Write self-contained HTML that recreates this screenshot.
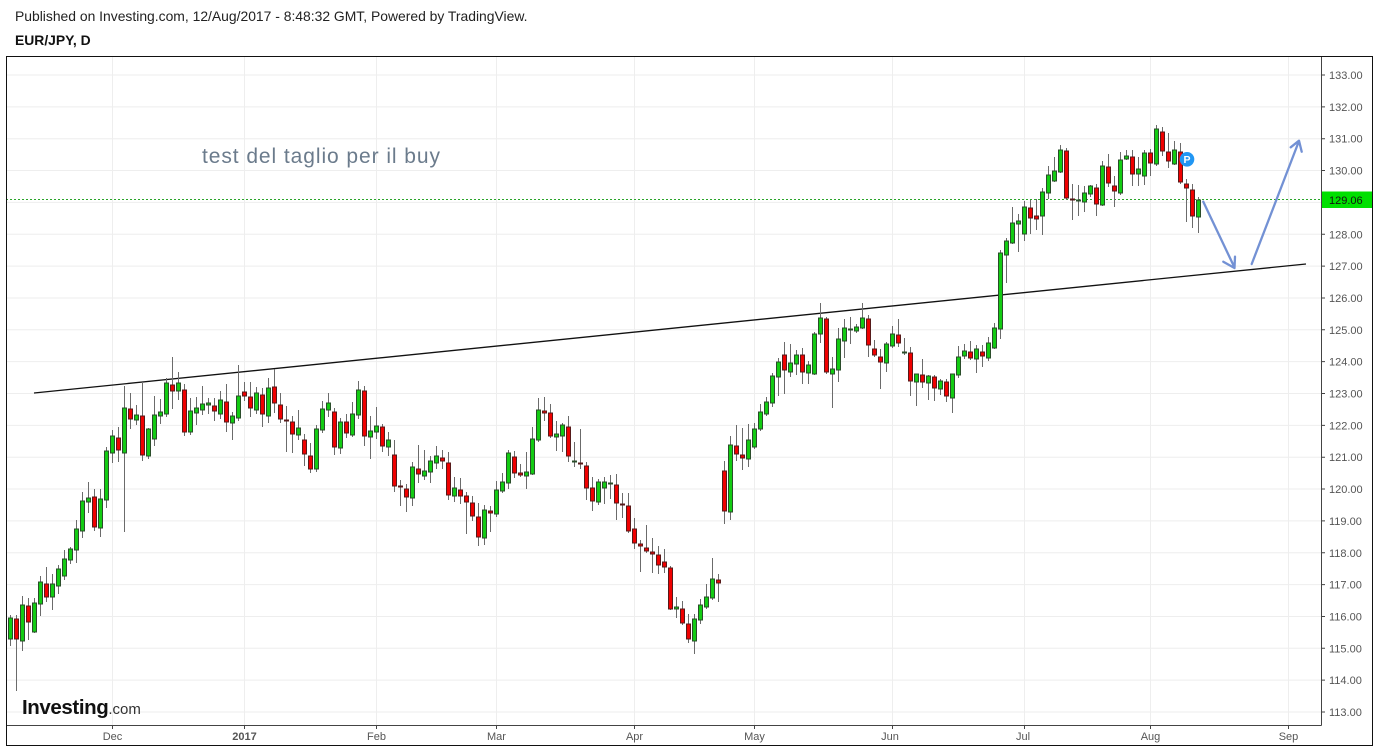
<!DOCTYPE html>
<html><head><meta charset="utf-8"><style>
html,body{margin:0;padding:0;background:#fff;}
svg{display:block;}
text{font-family:"Liberation Sans",Arial,sans-serif;}
</style></head><body>
<svg width="1373" height="749" viewBox="0 0 1373 749" xmlns="http://www.w3.org/2000/svg">
<rect width="1373" height="749" fill="#fff"/>
<text x="15" y="21" font-size="13.9" fill="#222">Published on Investing.com, 12/Aug/2017 - 8:48:32 GMT, Powered by TradingView.</text>
<text x="15" y="45" font-size="13.9" font-weight="bold" fill="#111">EUR/JPY, D</text>
<g stroke="#eeeeee" stroke-width="1">
<path d="M6 75H1321M6 106.85H1321M6 138.7H1321M6 170.55H1321M6 202.4H1321M6 234.25H1321M6 266.1H1321M6 297.95H1321M6 329.8H1321M6 361.65H1321M6 393.5H1321M6 425.35H1321M6 457.2H1321M6 489.05H1321M6 520.9H1321M6 552.75H1321M6 584.6H1321M6 616.45H1321M6 648.3H1321M6 680.15H1321M6 712H1321"/>
<path d="M112.5 56V725M244.5 56V725M376.5 56V725M496.5 56V725M634.5 56V725M754.5 56V725M892.5 56V725M1024.5 56V725M1150.5 56V725M1288.5 56V725"/>
</g>
<text x="202" y="163" font-size="21" fill="#6b7b8c" textLength="238" lengthAdjust="spacing">test del taglio per il buy</text>
<path d="M6 199.5H1321" stroke="#2aa52a" stroke-width="1" stroke-dasharray="2 2"/>
<path d="M34 393L1306 264" stroke="#111" stroke-width="1.3" fill="none"/>
<path fill="none" stroke="#6b6b6b" stroke-width="1" d="M10.5 615V646M16.5 615V691M22.5 596V651M28.5 598V640M34.5 598V633M40.5 576V616M46.5 567V602M52.5 574V610M58.5 565V594M64.5 550V580M70.5 547V564M76.5 520V563M82.5 492V538M88.5 482V513M94.5 489V531M100.5 489V537M106.5 447V508M112.5 430V463M118.5 427V462M124.5 386V532M130.5 393V429M136.5 405V425M142.5 382V461M148.5 428V459M154.5 396V446M160.5 399V424M166.5 378V417M172.5 357V409M178.5 372V400M184.5 384V436M190.5 398V435M196.5 397V425M202.5 386V415M208.5 398V414M214.5 398V421M220.5 391V419M226.5 384V432M232.5 412V440M238.5 365V421M244.5 382V401M250.5 382V417M256.5 387V414M262.5 388V427M268.5 378V423M274.5 369V413M280.5 393V423M286.5 406V452M292.5 416V453M298.5 410V440M304.5 434V466M310.5 443V473M316.5 425V472M322.5 401V433M328.5 393V417M334.5 408V455M340.5 418V454M346.5 414V438M352.5 402V437M358.5 381V419M364.5 386V446M370.5 416V459M376.5 407V439M382.5 424V452M388.5 432V456M394.5 440V492M400.5 480V506M406.5 484V512M412.5 462V506M418.5 445V483M424.5 450V480M430.5 456V483M436.5 446V469M442.5 450V469M448.5 452V500M454.5 477V502M460.5 478V504M466.5 492V534M472.5 496V521M478.5 503V546M484.5 505V545M490.5 506V532M496.5 481V517M502.5 473V493M508.5 450V489M514.5 451V478M520.5 464V477M526.5 452V489M532.5 427V475M538.5 398V442M544.5 397V421M550.5 404V438M556.5 421V451M562.5 423V452M568.5 416V462M574.5 442V467M580.5 429V469M586.5 462V500M592.5 477V511M598.5 479V505M604.5 477V504M610.5 475V499M616.5 474V520M622.5 493V518M628.5 493V533M634.5 518V549M640.5 540V572M646.5 525V553M652.5 538V573M658.5 546V574M664.5 549V573M670.5 566V610M676.5 597V618M682.5 601V625M688.5 614V643M694.5 614V654M700.5 599V624M706.5 584V609M712.5 558V600M718.5 574V602M724.5 461V524M730.5 436V520M736.5 425V461M742.5 428V470M748.5 424V467M754.5 423V449M760.5 404V431M766.5 397V416M772.5 373V407M778.5 358V396M784.5 342V394M790.5 344V377M796.5 350V375M802.5 348V384M808.5 361V384M814.5 332V375M820.5 303V343M826.5 317V374M832.5 357V408M838.5 328V382M844.5 319V358M850.5 317V344M856.5 324V333M862.5 303V329M868.5 315V357M874.5 340V357M880.5 349V389M886.5 342V372M892.5 326V348M898.5 319V347M904.5 338V355M910.5 347V396M916.5 374V406M922.5 359V388M928.5 375V400M934.5 375V401M940.5 379V395M946.5 379V402M952.5 374V413M958.5 346V378M964.5 344V359M970.5 341V360M976.5 345V373M982.5 345V367M988.5 337V361M994.5 323V349M1000.5 250V339M1006.5 238V283M1012.5 207V244M1018.5 214V252M1024.5 201V241M1030.5 200V234M1036.5 199V230M1042.5 188V235M1048.5 166V199M1054.5 157V182M1060.5 145V173M1066.5 148V200M1072.5 184V220M1078.5 185V216M1084.5 186V212M1090.5 185V197M1096.5 184V216M1102.5 161V206M1108.5 154V187M1114.5 176V207M1120.5 152V195M1126.5 150V160M1132.5 150V186M1138.5 157V186M1144.5 150V185M1150.5 149V176M1156.5 125V166M1162.5 127V156M1168.5 133V168M1174.5 141V165M1180.5 143V184M1186.5 179V222M1192.5 184V228M1198.5 197V233"/>
<g fill="#13cc13" stroke="#2a4d2a" stroke-width="1">
<rect x="8.5" y="618" width="4" height="21"/><rect x="20.5" y="605" width="4" height="36"/><rect x="32.5" y="603" width="4" height="29"/><rect x="38.5" y="582" width="4" height="22"/><rect x="50.5" y="584" width="4" height="13"/><rect x="56.5" y="569" width="4" height="17"/><rect x="62.5" y="559" width="4" height="17"/><rect x="68.5" y="549" width="4" height="11"/><rect x="74.5" y="529" width="4" height="21"/><rect x="80.5" y="501" width="4" height="30"/><rect x="86.5" y="498" width="4" height="4"/><rect x="98.5" y="499" width="4" height="29"/><rect x="104.5" y="451" width="4" height="49"/><rect x="110.5" y="436" width="4" height="17"/><rect x="122.5" y="408" width="4" height="45"/><rect x="134.5" y="415" width="4" height="5"/><rect x="146.5" y="429" width="4" height="27"/><rect x="152.5" y="415" width="4" height="24"/><rect x="158.5" y="412" width="4" height="4"/><rect x="164.5" y="383" width="4" height="31"/><rect x="176.5" y="383" width="4" height="8"/><rect x="188.5" y="411" width="4" height="21"/><rect x="194.5" y="408" width="4" height="5"/><rect x="200.5" y="404" width="4" height="6"/><rect x="206.5" y="403" width="4" height="2"/><rect x="218.5" y="400" width="4" height="14"/><rect x="230.5" y="416" width="4" height="7"/><rect x="236.5" y="396" width="4" height="22"/><rect x="254.5" y="393" width="4" height="17"/><rect x="266.5" y="388" width="4" height="28"/><rect x="296.5" y="428" width="4" height="7"/><rect x="314.5" y="429" width="4" height="40"/><rect x="320.5" y="409" width="4" height="21"/><rect x="326.5" y="403" width="4" height="7"/><rect x="338.5" y="422" width="4" height="26"/><rect x="350.5" y="414" width="4" height="21"/><rect x="356.5" y="390" width="4" height="25"/><rect x="368.5" y="431" width="4" height="6"/><rect x="374.5" y="426" width="4" height="6"/><rect x="386.5" y="440" width="4" height="7"/><rect x="410.5" y="467" width="4" height="31"/><rect x="422.5" y="471" width="4" height="5"/><rect x="428.5" y="461" width="4" height="11"/><rect x="434.5" y="456" width="4" height="7"/><rect x="452.5" y="488" width="4" height="8"/><rect x="482.5" y="510" width="4" height="28"/><rect x="494.5" y="490" width="4" height="24"/><rect x="500.5" y="482" width="4" height="9"/><rect x="506.5" y="453" width="4" height="30"/><rect x="524.5" y="472" width="4" height="4"/><rect x="530.5" y="439" width="4" height="35"/><rect x="536.5" y="410" width="4" height="30"/><rect x="554.5" y="434" width="4" height="3"/><rect x="560.5" y="425" width="4" height="11"/><rect x="572.5" y="461" width="4" height="1"/><rect x="596.5" y="482" width="4" height="20"/><rect x="602.5" y="482" width="4" height="6"/><rect x="608.5" y="483" width="4" height="1"/><rect x="674.5" y="607" width="4" height="2"/><rect x="692.5" y="619" width="4" height="22"/><rect x="698.5" y="605" width="4" height="15"/><rect x="704.5" y="597" width="4" height="10"/><rect x="710.5" y="579" width="4" height="19"/><rect x="728.5" y="445" width="4" height="67"/><rect x="746.5" y="440" width="4" height="19"/><rect x="752.5" y="429" width="4" height="18"/><rect x="758.5" y="412" width="4" height="17"/><rect x="764.5" y="402" width="4" height="12"/><rect x="770.5" y="376" width="4" height="27"/><rect x="776.5" y="362" width="4" height="15"/><rect x="788.5" y="363" width="4" height="9"/><rect x="794.5" y="355" width="4" height="9"/><rect x="806.5" y="365" width="4" height="8"/><rect x="812.5" y="334" width="4" height="40"/><rect x="818.5" y="318" width="4" height="16"/><rect x="830.5" y="369" width="4" height="5"/><rect x="836.5" y="339" width="4" height="31"/><rect x="842.5" y="328" width="4" height="13"/><rect x="848.5" y="329" width="4" height="1"/><rect x="854.5" y="327" width="4" height="4"/><rect x="860.5" y="318" width="4" height="10"/><rect x="884.5" y="344" width="4" height="19"/><rect x="890.5" y="334" width="4" height="12"/><rect x="902.5" y="352" width="4" height="1"/><rect x="914.5" y="374" width="4" height="8"/><rect x="926.5" y="376" width="4" height="7"/><rect x="938.5" y="381" width="4" height="8"/><rect x="950.5" y="374" width="4" height="24"/><rect x="956.5" y="357" width="4" height="18"/><rect x="962.5" y="351" width="4" height="5"/><rect x="974.5" y="349" width="4" height="10"/><rect x="986.5" y="343" width="4" height="15"/><rect x="992.5" y="328" width="4" height="20"/><rect x="998.5" y="253" width="4" height="76"/><rect x="1004.5" y="241" width="4" height="14"/><rect x="1010.5" y="223" width="4" height="20"/><rect x="1016.5" y="221" width="4" height="3"/><rect x="1022.5" y="207" width="4" height="27"/><rect x="1040.5" y="192" width="4" height="24"/><rect x="1046.5" y="175" width="4" height="18"/><rect x="1052.5" y="171" width="4" height="10"/><rect x="1058.5" y="150" width="4" height="22"/><rect x="1076.5" y="200" width="4" height="1"/><rect x="1082.5" y="193" width="4" height="9"/><rect x="1088.5" y="186" width="4" height="8"/><rect x="1100.5" y="166" width="4" height="39"/><rect x="1118.5" y="160" width="4" height="33"/><rect x="1124.5" y="156" width="4" height="3"/><rect x="1136.5" y="169" width="4" height="5"/><rect x="1142.5" y="153" width="4" height="23"/><rect x="1154.5" y="129" width="4" height="35"/><rect x="1172.5" y="150" width="4" height="14"/><rect x="1196.5" y="200" width="4" height="17"/>
</g>
<g fill="#f00000" stroke="#561a1a" stroke-width="1">
<rect x="14.5" y="619" width="4" height="20"/><rect x="26.5" y="606" width="4" height="16"/><rect x="44.5" y="584" width="4" height="13"/><rect x="92.5" y="497" width="4" height="30"/><rect x="116.5" y="438" width="4" height="12"/><rect x="128.5" y="409" width="4" height="10"/><rect x="140.5" y="416" width="4" height="39"/><rect x="170.5" y="385" width="4" height="6"/><rect x="182.5" y="390" width="4" height="42"/><rect x="212.5" y="406" width="4" height="5"/><rect x="224.5" y="402" width="4" height="20"/><rect x="242.5" y="392" width="4" height="4"/><rect x="248.5" y="397" width="4" height="11"/><rect x="260.5" y="395" width="4" height="19"/><rect x="272.5" y="387" width="4" height="16"/><rect x="278.5" y="405" width="4" height="14"/><rect x="284.5" y="420" width="4" height="1"/><rect x="290.5" y="422" width="4" height="12"/><rect x="302.5" y="440" width="4" height="14"/><rect x="308.5" y="456" width="4" height="13"/><rect x="332.5" y="412" width="4" height="35"/><rect x="344.5" y="422" width="4" height="11"/><rect x="362.5" y="391" width="4" height="45"/><rect x="380.5" y="427" width="4" height="19"/><rect x="392.5" y="455" width="4" height="31"/><rect x="398.5" y="486" width="4" height="1"/><rect x="404.5" y="489" width="4" height="8"/><rect x="416.5" y="469" width="4" height="5"/><rect x="440.5" y="458" width="4" height="3"/><rect x="446.5" y="463" width="4" height="32"/><rect x="458.5" y="490" width="4" height="6"/><rect x="464.5" y="496" width="4" height="6"/><rect x="470.5" y="503" width="4" height="13"/><rect x="476.5" y="517" width="4" height="20"/><rect x="488.5" y="511" width="4" height="2"/><rect x="512.5" y="457" width="4" height="16"/><rect x="518.5" y="473" width="4" height="2"/><rect x="542.5" y="411" width="4" height="2"/><rect x="548.5" y="413" width="4" height="23"/><rect x="566.5" y="427" width="4" height="29"/><rect x="578.5" y="463" width="4" height="1"/><rect x="584.5" y="466" width="4" height="22"/><rect x="590.5" y="488" width="4" height="13"/><rect x="614.5" y="485" width="4" height="18"/><rect x="620.5" y="504" width="4" height="1"/><rect x="626.5" y="506" width="4" height="25"/><rect x="632.5" y="529" width="4" height="14"/><rect x="638.5" y="544" width="4" height="2"/><rect x="644.5" y="548" width="4" height="3"/><rect x="650.5" y="552" width="4" height="2"/><rect x="656.5" y="555" width="4" height="10"/><rect x="662.5" y="562" width="4" height="5"/><rect x="668.5" y="568" width="4" height="41"/><rect x="680.5" y="609" width="4" height="14"/><rect x="686.5" y="624" width="4" height="15"/><rect x="716.5" y="580" width="4" height="3"/><rect x="722.5" y="471" width="4" height="40"/><rect x="734.5" y="446" width="4" height="8"/><rect x="740.5" y="455" width="4" height="3"/><rect x="782.5" y="355" width="4" height="15"/><rect x="800.5" y="355" width="4" height="17"/><rect x="824.5" y="319" width="4" height="53"/><rect x="866.5" y="319" width="4" height="26"/><rect x="872.5" y="349" width="4" height="6"/><rect x="878.5" y="357" width="4" height="5"/><rect x="896.5" y="335" width="4" height="8"/><rect x="908.5" y="353" width="4" height="28"/><rect x="920.5" y="375" width="4" height="7"/><rect x="932.5" y="377" width="4" height="11"/><rect x="944.5" y="382" width="4" height="14"/><rect x="968.5" y="352" width="4" height="6"/><rect x="980.5" y="352" width="4" height="4"/><rect x="1028.5" y="208" width="4" height="10"/><rect x="1034.5" y="216" width="4" height="3"/><rect x="1064.5" y="151" width="4" height="47"/><rect x="1070.5" y="199" width="4" height="1"/><rect x="1094.5" y="188" width="4" height="16"/><rect x="1106.5" y="167" width="4" height="16"/><rect x="1112.5" y="186" width="4" height="5"/><rect x="1130.5" y="157" width="4" height="17"/><rect x="1148.5" y="153" width="4" height="10"/><rect x="1160.5" y="132" width="4" height="19"/><rect x="1166.5" y="152" width="4" height="9"/><rect x="1178.5" y="152" width="4" height="30"/><rect x="1184.5" y="184" width="4" height="4"/><rect x="1190.5" y="190" width="4" height="26"/>
</g>
<g stroke="#7391d4" stroke-width="2.3" fill="none" stroke-linecap="round" stroke-linejoin="round">
<path d="M1203.3 201.7L1234.5 267.5M1223.3 261.7L1234.5 268L1235 256.7"/>
<path d="M1251.7 264L1299 141M1290.7 147.3L1299 140.7L1301.7 151.7"/>
</g>
<circle cx="1187" cy="159.3" r="7.3" fill="#2196f3"/>
<text x="1187" y="163.2" font-size="10.5" font-weight="bold" fill="#fff" text-anchor="middle">P</text>
<path d="M1321.5 56V725.5M6 725.5H1321.5" stroke="#444" stroke-width="1" fill="none"/>
<path d="M1321 75H1325M1321 106.85H1325M1321 138.7H1325M1321 170.55H1325M1321 234.25H1325M1321 266.1H1325M1321 297.95H1325M1321 329.8H1325M1321 361.65H1325M1321 393.5H1325M1321 425.35H1325M1321 457.2H1325M1321 489.05H1325M1321 520.9H1325M1321 552.75H1325M1321 584.6H1325M1321 616.45H1325M1321 648.3H1325M1321 680.15H1325M1321 712H1325" stroke="#444" stroke-width="1"/>
<path d="M112.5 725V729M244.5 725V729M376.5 725V729M496.5 725V729M634.5 725V729M754.5 725V729M892.5 725V729M1024.5 725V729M1150.5 725V729M1288.5 725V729" stroke="#444" stroke-width="1"/>
<g font-size="11" fill="#555">
<text x="1329" y="79">133.00</text>
<text x="1329" y="110.85">132.00</text>
<text x="1329" y="142.7">131.00</text>
<text x="1329" y="174.55">130.00</text>
<text x="1329" y="238.25">128.00</text>
<text x="1329" y="270.1">127.00</text>
<text x="1329" y="301.95">126.00</text>
<text x="1329" y="333.8">125.00</text>
<text x="1329" y="365.65">124.00</text>
<text x="1329" y="397.5">123.00</text>
<text x="1329" y="429.35">122.00</text>
<text x="1329" y="461.2">121.00</text>
<text x="1329" y="493.05">120.00</text>
<text x="1329" y="524.9">119.00</text>
<text x="1329" y="556.75">118.00</text>
<text x="1329" y="588.6">117.00</text>
<text x="1329" y="620.45">116.00</text>
<text x="1329" y="652.3">115.00</text>
<text x="1329" y="684.15">114.00</text>
<text x="1329" y="716">113.00</text>
</g>
<rect x="1322" y="191.5" width="51" height="16.5" fill="#00e000"/>
<text x="1329" y="204" font-size="11" fill="#111">129.06</text>
<g font-size="11" fill="#555" text-anchor="middle">
<text x="112.5" y="740">Dec</text>
<text x="244.5" y="740" font-weight="bold">2017</text>
<text x="376.5" y="740">Feb</text>
<text x="496.5" y="740">Mar</text>
<text x="634.5" y="740">Apr</text>
<text x="754.5" y="740">May</text>
<text x="890" y="740">Jun</text>
<text x="1023" y="740">Jul</text>
<text x="1150.5" y="740">Aug</text>
<text x="1288.5" y="740">Sep</text>
</g>
<text x="22" y="714" font-size="20.5" font-weight="bold" fill="#111" letter-spacing="-0.4">Investing<tspan font-size="15" font-weight="normal" fill="#333" letter-spacing="0">.com</tspan></text>
<rect x="6.5" y="56.5" width="1366" height="689" fill="none" stroke="#111" stroke-width="1"/>
</svg>
</body></html>
